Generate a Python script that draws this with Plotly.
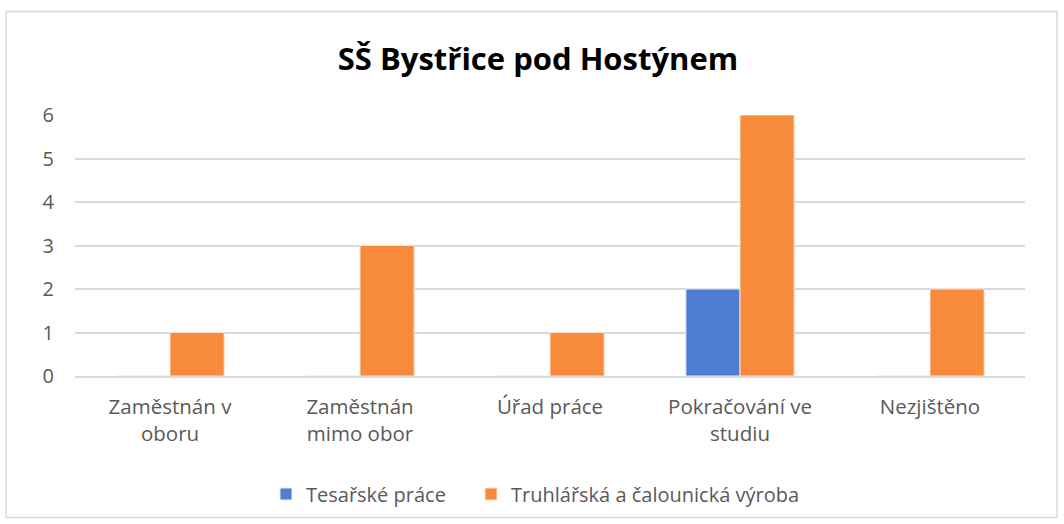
import plotly.graph_objects as go

categories = ["Zaměstnán v<br>oboru", "Zaměstnán<br>mimo obor", "Úřad práce", "Pokračování ve<br>studiu", "Nezjištěno"]
series_names = ["Tesařské práce", "Truhlářská a čalounická výroba"]
tesarske = [0, 0, 0, 2, 0]
truhlarska = [1, 3, 1, 6, 2]
y_ticks = [0, 1, 2, 3, 4, 5, 6]

W, H = 1064, 524
L, R, T, B = 75, 39, 115, 147
pw, ph = W - L - R, H - T - B
FONT = "Open Sans, Noto Sans, sans-serif"

fig = go.Figure()
fig.add_trace(go.Bar(x=categories, y=tesarske, name=series_names[0], legend="legend",
                     marker=dict(color="#4d7ed1", line=dict(color="#e8eef8", width=1))))
fig.add_trace(go.Bar(x=categories, y=truhlarska, name=series_names[1], legend="legend2",
                     marker=dict(color="#f78b3b", line=dict(color="#fbe3d0", width=1))))

def px_x(p):
    return (p - L) / pw

def px_y(p):
    return 1 - (p - T) / ph

fig.add_shape(type="rect", xref="paper", yref="paper",
              x0=px_x(6), x1=px_x(1057), y0=px_y(519), y1=px_y(11),
              line=dict(color="#d9d9d9", width=1.5), fillcolor="rgba(0,0,0,0)", layer="below")

leg_common = dict(orientation="h", xanchor="left", y=px_y(494), yanchor="middle",
                  font=dict(size=20, color="#595959", family=FONT), itemwidth=30)

fig.update_layout(
    width=W, height=H,
    margin=dict(l=L, r=R, t=T, b=B, pad=0),
    paper_bgcolor="white", plot_bgcolor="white",
    font=dict(family=FONT, color="#595959", size=20),
    title=dict(text="<b>SŠ Bystřice pod Hostýnem</b>", x=538 / W, xanchor="center",
               y=1 - 59 / H, yanchor="middle",
               font=dict(size=31, color="#000000", family=FONT)),
    barmode="group", bargap=0.43, bargroupgap=0,
    showlegend=True,
    legend=dict(x=px_x(266), **leg_common),
    legend2=dict(x=px_x(471), **leg_common),
    xaxis=dict(showgrid=False, showline=True, linecolor="#d9d9d9", linewidth=1.5,
               ticks="", tickfont=dict(size=20.5, color="#595959"), ticklabelstandoff=12),
    yaxis=dict(range=[0, 6], tickvals=y_ticks, showgrid=True, gridcolor="#d9d9d9", gridwidth=1.5,
               zeroline=False, showline=False, ticks="", ticklabelstandoff=20,
               tickfont=dict(size=20, color="#595959")),
)

fig.write_html("out.html", config={"displayModeBar": False},
               post_script="document.body.style.margin='0';document.body.style.overflow='hidden';")
